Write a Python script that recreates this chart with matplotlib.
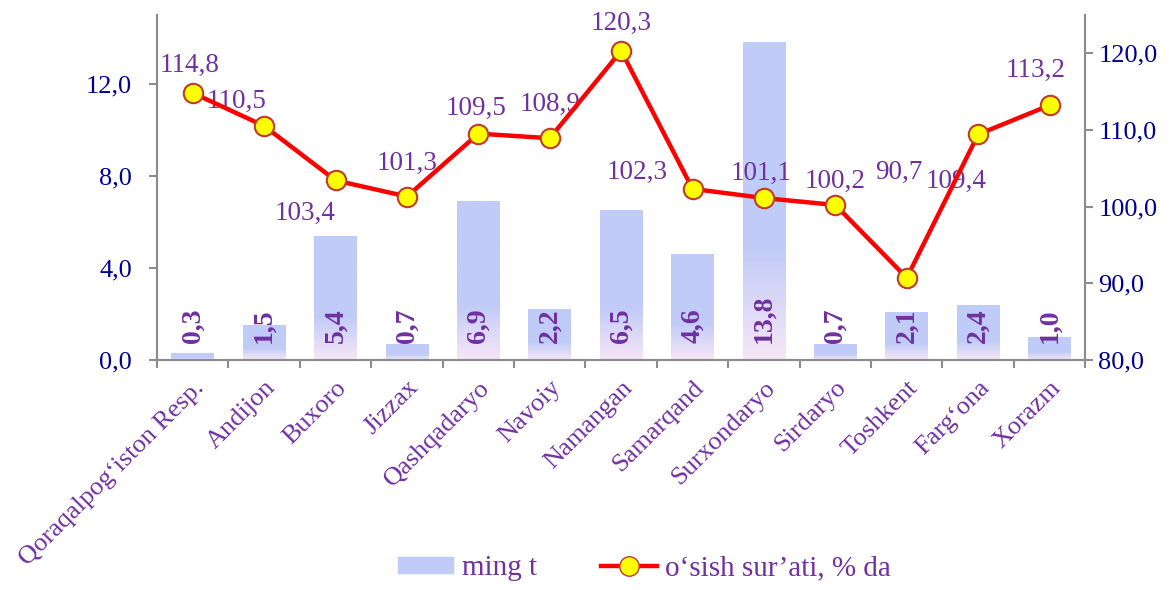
import numpy as np
import matplotlib
matplotlib.use('Agg')
import matplotlib.pyplot as plt
from matplotlib.colors import LinearSegmentedColormap
from matplotlib.patches import Patch
from matplotlib.lines import Line2D

#%% Data
regions = ['Qoraqalpog\u2018iston Resp.', 'Andijon', 'Buxoro', 'Jizzax', 'Qashqadaryo',
           'Navoiy', 'Namangan', 'Samarqand', 'Surxondaryo', 'Sirdaryo', 'Toshkent',
           'Farg\u2018ona', 'Xorazm']
tonnes = [0.3, 1.5, 5.4, 0.7, 6.9, 2.2, 6.5, 4.6, 13.8, 0.7, 2.1, 2.4, 1.0]
growth = [114.8, 110.5, 103.4, 101.3, 109.5, 108.9, 120.3, 102.3, 101.1, 100.2, 90.7, 109.4, 113.2]
# label offsets (points) for the growth labels
lbl_dx = [-2, -20, -22, 0, -2, 0, 0, -40, -2, 0, -6, -16, -10]
lbl_dy = [20, 18, -24, 24, 18, 24, 20, 12, 18, 17, 76, -34, 25]

#%% Style
plt.rcParams['font.family'] = ['Liberation Serif', 'DejaVu Serif']
purple = '#7030A0'
navy = '#000090'
grey = '#8C8C8C'
bar_col = '#C0CBF8'

fig = plt.figure(figsize=(11.72, 5.9), dpi=100)
ax = fig.add_axes([0.134, 0.39, 0.792, 0.585])
ax2 = ax.twinx()

x = np.arange(len(regions))
bars = ax.bar(x, tonnes, width=0.6, color=bar_col, zorder=1)

# pinkish fade towards the bottom of each bar
cmap = LinearSegmentedColormap.from_list('fade', [(0, '#F6E6F6'), (0.35, bar_col), (1, bar_col)])
grad = np.linspace(0, 1, 100).reshape(-1, 1)
for b in bars:
    im = ax.imshow(grad, cmap=cmap, aspect='auto', origin='lower',
                   extent=[b.get_x(), b.get_x() + b.get_width(), 0, b.get_height()],
                   zorder=1.5)
    im.set_clip_path(b)

for i, v in enumerate(tonnes):
    ax.annotate(f'{v:.1f}'.replace('.', ','), xy=(i, 0), xytext=(0, 12),
                textcoords='offset points', ha='center', va='bottom', rotation=90,
                color=purple, fontsize=20, fontweight='bold', zorder=3)

ax.set_xlim(-0.5, len(regions) - 0.5)
ax.set_ylim(0, 15)
ax.set_yticks([0, 4, 8, 12])
ax.set_yticklabels([f'{t:.1f}'.replace('.', ',') for t in [0, 4, 8, 12]])
ax.set_xticks(x)
ax.set_xticklabels(regions, rotation=45, ha='right', rotation_mode='anchor',
                   color=purple, fontsize=19)
ax.tick_params(axis='x', length=0, pad=12)
ax.set_xticks(np.arange(len(regions) + 1) - 0.5, minor=True)
ax.tick_params(axis='x', which='minor', length=6, color=grey, width=1.5)
ax.tick_params(axis='y', colors=grey, labelcolor=navy, labelsize=19, length=6,
               width=1.5, pad=12)

ax2.plot(x, growth, color='#FF0000', lw=3.2, marker='o', markersize=14,
         markerfacecolor='#FFFF00', markeredgecolor='#C0392B', markeredgewidth=1.5,
         zorder=4)
for i, v in enumerate(growth):
    ax2.annotate(f'{v:.1f}'.replace('.', ','), xy=(i, v), xytext=(lbl_dx[i], lbl_dy[i]),
                 textcoords='offset points', ha='center', va='center',
                 color=purple, fontsize=19.5)
ax2.set_ylim(80, 125)
ax2.set_yticks([80, 90, 100, 110, 120])
ax2.set_yticklabels([f'{t:.1f}'.replace('.', ',') for t in [80, 90, 100, 110, 120]])
ax2.tick_params(axis='y', colors=grey, labelcolor=navy, labelsize=19, length=6, width=1.5)

for a in (ax, ax2):
    a.spines['top'].set_visible(False)
    for s in ('left', 'right', 'bottom'):
        a.spines[s].set_color(grey)
        a.spines[s].set_linewidth(1.5)
ax.set_zorder(ax2.get_zorder() - 1)
ax2.patch.set_visible(False)

handles = [Patch(color=bar_col),
           Line2D([], [], color='#FF0000', lw=3.2, marker='o', markersize=14,
                  markerfacecolor='#FFFF00', markeredgecolor='#C0392B')]
fig.legend(handles, ['ming t', 'o\u2018sish sur\u2019ati, % da'], loc='lower center',
           bbox_to_anchor=(0.55, -0.03), ncol=2, frameon=False, fontsize=21,
           labelcolor=purple, handlelength=1.9, handleheight=0.5, columnspacing=2.2,
           handletextpad=0.3)

fig.savefig('out.png', dpi=100)
